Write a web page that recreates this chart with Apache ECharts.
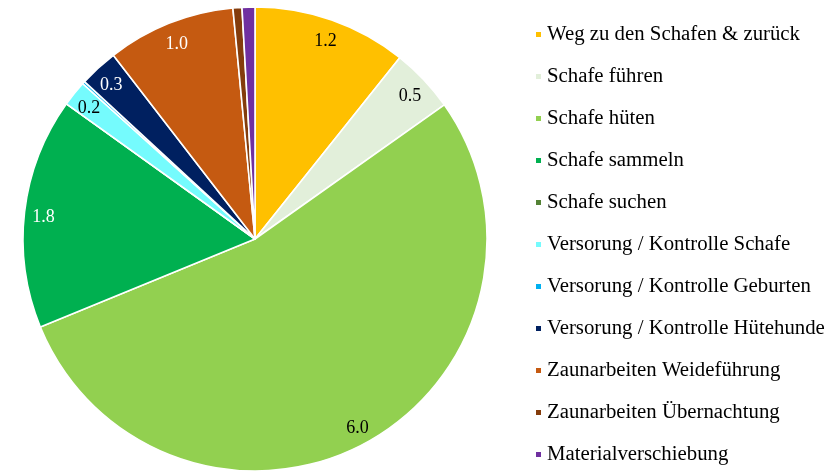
<!DOCTYPE html>
<html>
<head>
<meta charset="utf-8">
<script src="https://cdn.jsdelivr.net/npm/echarts@6/dist/echarts.min.js"></script>
<style>
  html, body { margin: 0; padding: 0; background: #fff; }
  #chart { width: 828px; height: 472px; }
</style>
</head>
<body>
<div id="chart"></div>
<script>
var categories = [
    'Weg zu den Schafen & zurück',
    'Schafe führen',
    'Schafe hüten',
    'Schafe sammeln',
    'Schafe suchen',
    'Versorung / Kontrolle Schafe',
    'Versorung / Kontrolle Geburten',
    'Versorung / Kontrolle Hütehunde',
    'Zaunarbeiten Weideführung',
    'Zaunarbeiten Übernachtung',
    'Materialverschiebung'
];
var values = [1.2, 0.5, 6.0, 1.8, 0.0, 0.2, 0.02, 0.3, 1.0, 0.07, 0.1];
var colors = ['#FFC000', '#E2EFDA', '#92D050', '#00B050', '#548235', '#75FBFD',
              '#00B0F0', '#002060', '#C55A11', '#843C0C', '#7030A0'];
var labelColors = ['#000', '#000', '#000', '#fff', '#000', '#000',
                   '#000', '#fff', '#fff', '#fff', '#fff'];

var serif = '"Liberation Serif", "DejaVu Serif", serif';
var center = [255, 239];

var pieData = categories.map(function (name, i) {
    return { name: name, value: values[i], itemStyle: { color: colors[i] } };
});
var labelData = categories.map(function (name, i) {
    return { name: name, value: values[i], label: { color: labelColors[i] } };
});

var myChart = echarts.init(document.getElementById('chart'));
var option = {
    animation: false,
    legend: {
        orient: 'vertical',
        left: 534,
        top: 24,
        padding: 0,
        height: 446,
        icon: 'rect',
        itemWidth: 7,
        itemHeight: 7,
        itemGap: 21,
        data: categories,
        textStyle: { fontFamily: serif, fontSize: 20.8, lineHeight: 21, color: '#000' }
    },
    series: [
        {
            name: 'Zeit',
            type: 'pie',
            center: center,
            radius: [0, 232],
            startAngle: 90,
            clockwise: true,
            minAngle: 0,
            avoidLabelOverlap: false,
            itemStyle: { borderColor: '#fff', borderWidth: 1.6 },
            label: { show: false },
            labelLine: { show: false },
            emphasis: { disabled: true },
            data: pieData
        },
        {
            name: 'Labels',
            type: 'pie',
            center: center,
            radius: [188, 232],
            startAngle: 90,
            clockwise: true,
            silent: true,
            avoidLabelOverlap: false,
            itemStyle: { color: 'rgba(0,0,0,0)', borderWidth: 0 },
            label: {
                show: true,
                position: 'inside',
                fontFamily: serif,
                fontSize: 18,
                offset: [0, 3],
                formatter: function (p) {
                    return p.value >= 0.15 ? p.value.toFixed(1) : '';
                }
            },
            labelLine: { show: false },
            emphasis: { disabled: true },
            data: labelData
        }
    ]
};
myChart.setOption(option);
</script>
</body>
</html>
